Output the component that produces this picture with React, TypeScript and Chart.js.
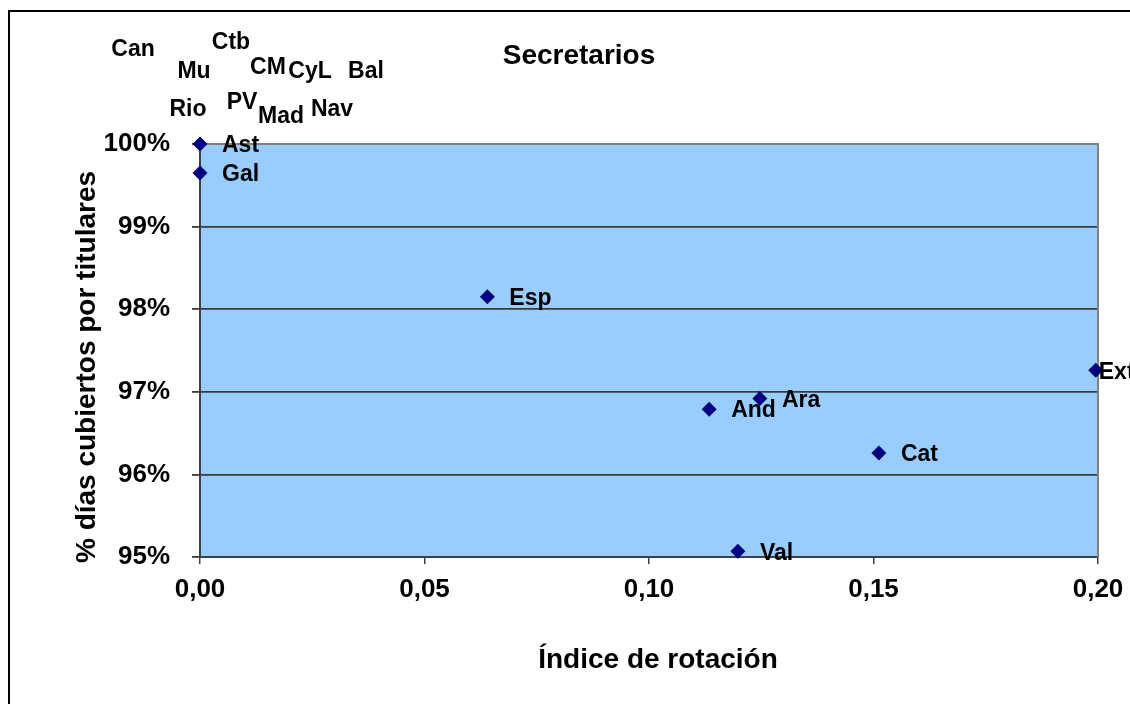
import React, { useEffect, useRef } from "react";
import { Chart, registerables } from "chart.js";

Chart.register(...registerables);

// ---- data ----
const regions = ["Ast", "Gal", "Esp", "Ext", "And", "Ara", "Cat", "Val"];
const rotationIndex = [0.0, 0.0, 0.064, 0.1995, 0.1134, 0.1247, 0.1512, 0.1198];
const coveredPct = [100.0, 99.65, 98.15, 97.26, 96.79, 96.92, 96.26, 95.07];

const xTicks = [0, 0.05, 0.1, 0.15, 0.2];
const yTicks = [95, 96, 97, 98, 99, 100];

const chartTitle = "Secretarios";
const xTitle = "Índice de rotación";
const yTitle = "% días cubiertos por titulares";

// labels that sit above the plot area in the reference (text only)
const floatingLabels = ["Can", "Ctb", "Mu", "CM", "CyL", "Bal", "Rio", "PV", "Mad", "Nav"];
const floatingPos: [number, number][] = [
  [133, 50], [231, 43], [194, 72], [268, 68], [310, 72],
  [366, 72], [188, 110], [242, 103], [281, 117], [332, 110],
];

const FONT = '"Liberation Sans", Arial, Helvetica, sans-serif';
const labelOffset: Record<string, [number, number]> = { Ext: [3, 2] };

const textPlugin = {
  id: "customText",
  beforeDraw(chart: any) {
    const { ctx, chartArea: a } = chart;
    ctx.save();
    ctx.fillStyle = "#ffffff";
    ctx.fillRect(0, 0, chart.width, chart.height);
    ctx.fillStyle = "#99CCFF";
    ctx.fillRect(a.left, a.top, a.right - a.left, a.bottom - a.top);
    ctx.restore();
  },
  beforeDatasetsDraw(chart: any) {
    const { ctx, chartArea: a } = chart;
    ctx.save();
    ctx.strokeStyle = "#808080";
    ctx.lineWidth = 2;
    ctx.beginPath();
    ctx.moveTo(a.left, a.top);
    ctx.lineTo(a.right, a.top);
    ctx.lineTo(a.right, a.bottom);
    ctx.stroke();
    ctx.restore();
  },
  afterDraw(chart: any) {
    const { ctx } = chart;
    const xs = chart.scales.x;
    const ys = chart.scales.y;
    ctx.save();
    ctx.fillStyle = "#000";
    ctx.textBaseline = "middle";
    // point labels
    ctx.font = `bold 23px ${FONT}`;
    ctx.textAlign = "left";
    regions.forEach((r, i) => {
      const off = labelOffset[r] || [22, 2];
      ctx.fillText(r, xs.getPixelForValue(rotationIndex[i]) + off[0], ys.getPixelForValue(coveredPct[i]) + off[1]);
    });
    // floating labels
    ctx.textAlign = "center";
    floatingLabels.forEach((t, i) => {
      ctx.fillText(t, floatingPos[i][0], floatingPos[i][1]);
    });
    // title
    ctx.font = `bold 28px ${FONT}`;
    ctx.fillText(chartTitle, 579, 56);
    // x title
    ctx.fillText(xTitle, 658, 660);
    // y title
    ctx.translate(87, 367);
    ctx.rotate(-Math.PI / 2);
    ctx.fillText(yTitle, 0, 0);
    ctx.restore();
    // outer frame
    ctx.save();
    ctx.strokeStyle = "#000";
    ctx.lineWidth = 2;
    ctx.strokeRect(9, 11, 1300, 900);
    ctx.restore();
  },
};

export default function App() {
  const ref = useRef<HTMLCanvasElement | null>(null);

  useEffect(() => {
    document.body.style.margin = "0";
    const canvas = ref.current!;
    const chart = new Chart(canvas, {
      type: "scatter",
      data: {
        datasets: [
          {
            data: regions.map((_, i) => ({ x: rotationIndex[i], y: coveredPct[i] })),
            pointStyle: "rectRot",
            pointRadius: 7.5,
            pointHoverRadius: 7.5,
            backgroundColor: "#000080",
            borderColor: "#000080",
            borderWidth: 0,
            clip: false,
          } as any,
        ],
      },
      options: {
        animation: false,
        responsive: false,
        maintainAspectRatio: false,
        layout: { padding: { left: 0, top: 144, right: 32, bottom: 0 } },
        plugins: {
          legend: { display: false },
          tooltip: { enabled: false },
          title: { display: false },
        },
        scales: {
          x: {
            type: "linear",
            min: 0,
            max: 0.2,
            afterBuildTicks: (s: any) => {
              s.ticks = xTicks.map((v) => ({ value: v }));
            },
            afterFit: (s: any) => {
              s.height = 147;
              s.paddingLeft = 0;
              s.paddingRight = 0;
            },
            ticks: {
              color: "#000",
              font: { family: FONT, size: 26, weight: "bold" },
              padding: 10,
              maxRotation: 0,
              callback: (v: any) => Number(v).toFixed(2).replace(".", ","),
            },
            grid: {
              drawOnChartArea: false,
              drawTicks: true,
              tickLength: 7,
              color: "#404040",
              lineWidth: 1.5,
            },
            border: { color: "#404040", width: 2 },
          },
          y: {
            type: "linear",
            min: 95,
            max: 100,
            afterBuildTicks: (s: any) => {
              s.ticks = yTicks.map((v) => ({ value: v }));
            },
            afterFit: (s: any) => {
              s.width = 200;
              s.paddingTop = 0;
              s.paddingBottom = 0;
            },
            ticks: {
              color: "#000",
              font: { family: FONT, size: 26, weight: "bold" },
              padding: 22,
              callback: (v: any) => `${v}%`,
            },
            grid: {
              drawOnChartArea: true,
              drawTicks: true,
              tickLength: 8,
              color: "#3a3a3a",
              lineWidth: 1.8,
            },
            border: { color: "#404040", width: 2 },
          },
        },
      },
      plugins: [textPlugin],
    } as any);
    return () => chart.destroy();
  }, []);

  return (
    <div style={{ width: 1130, height: 704 }}>
      <canvas ref={ref} width={1130} height={704} style={{ display: "block" }} />
    </div>
  );
}
